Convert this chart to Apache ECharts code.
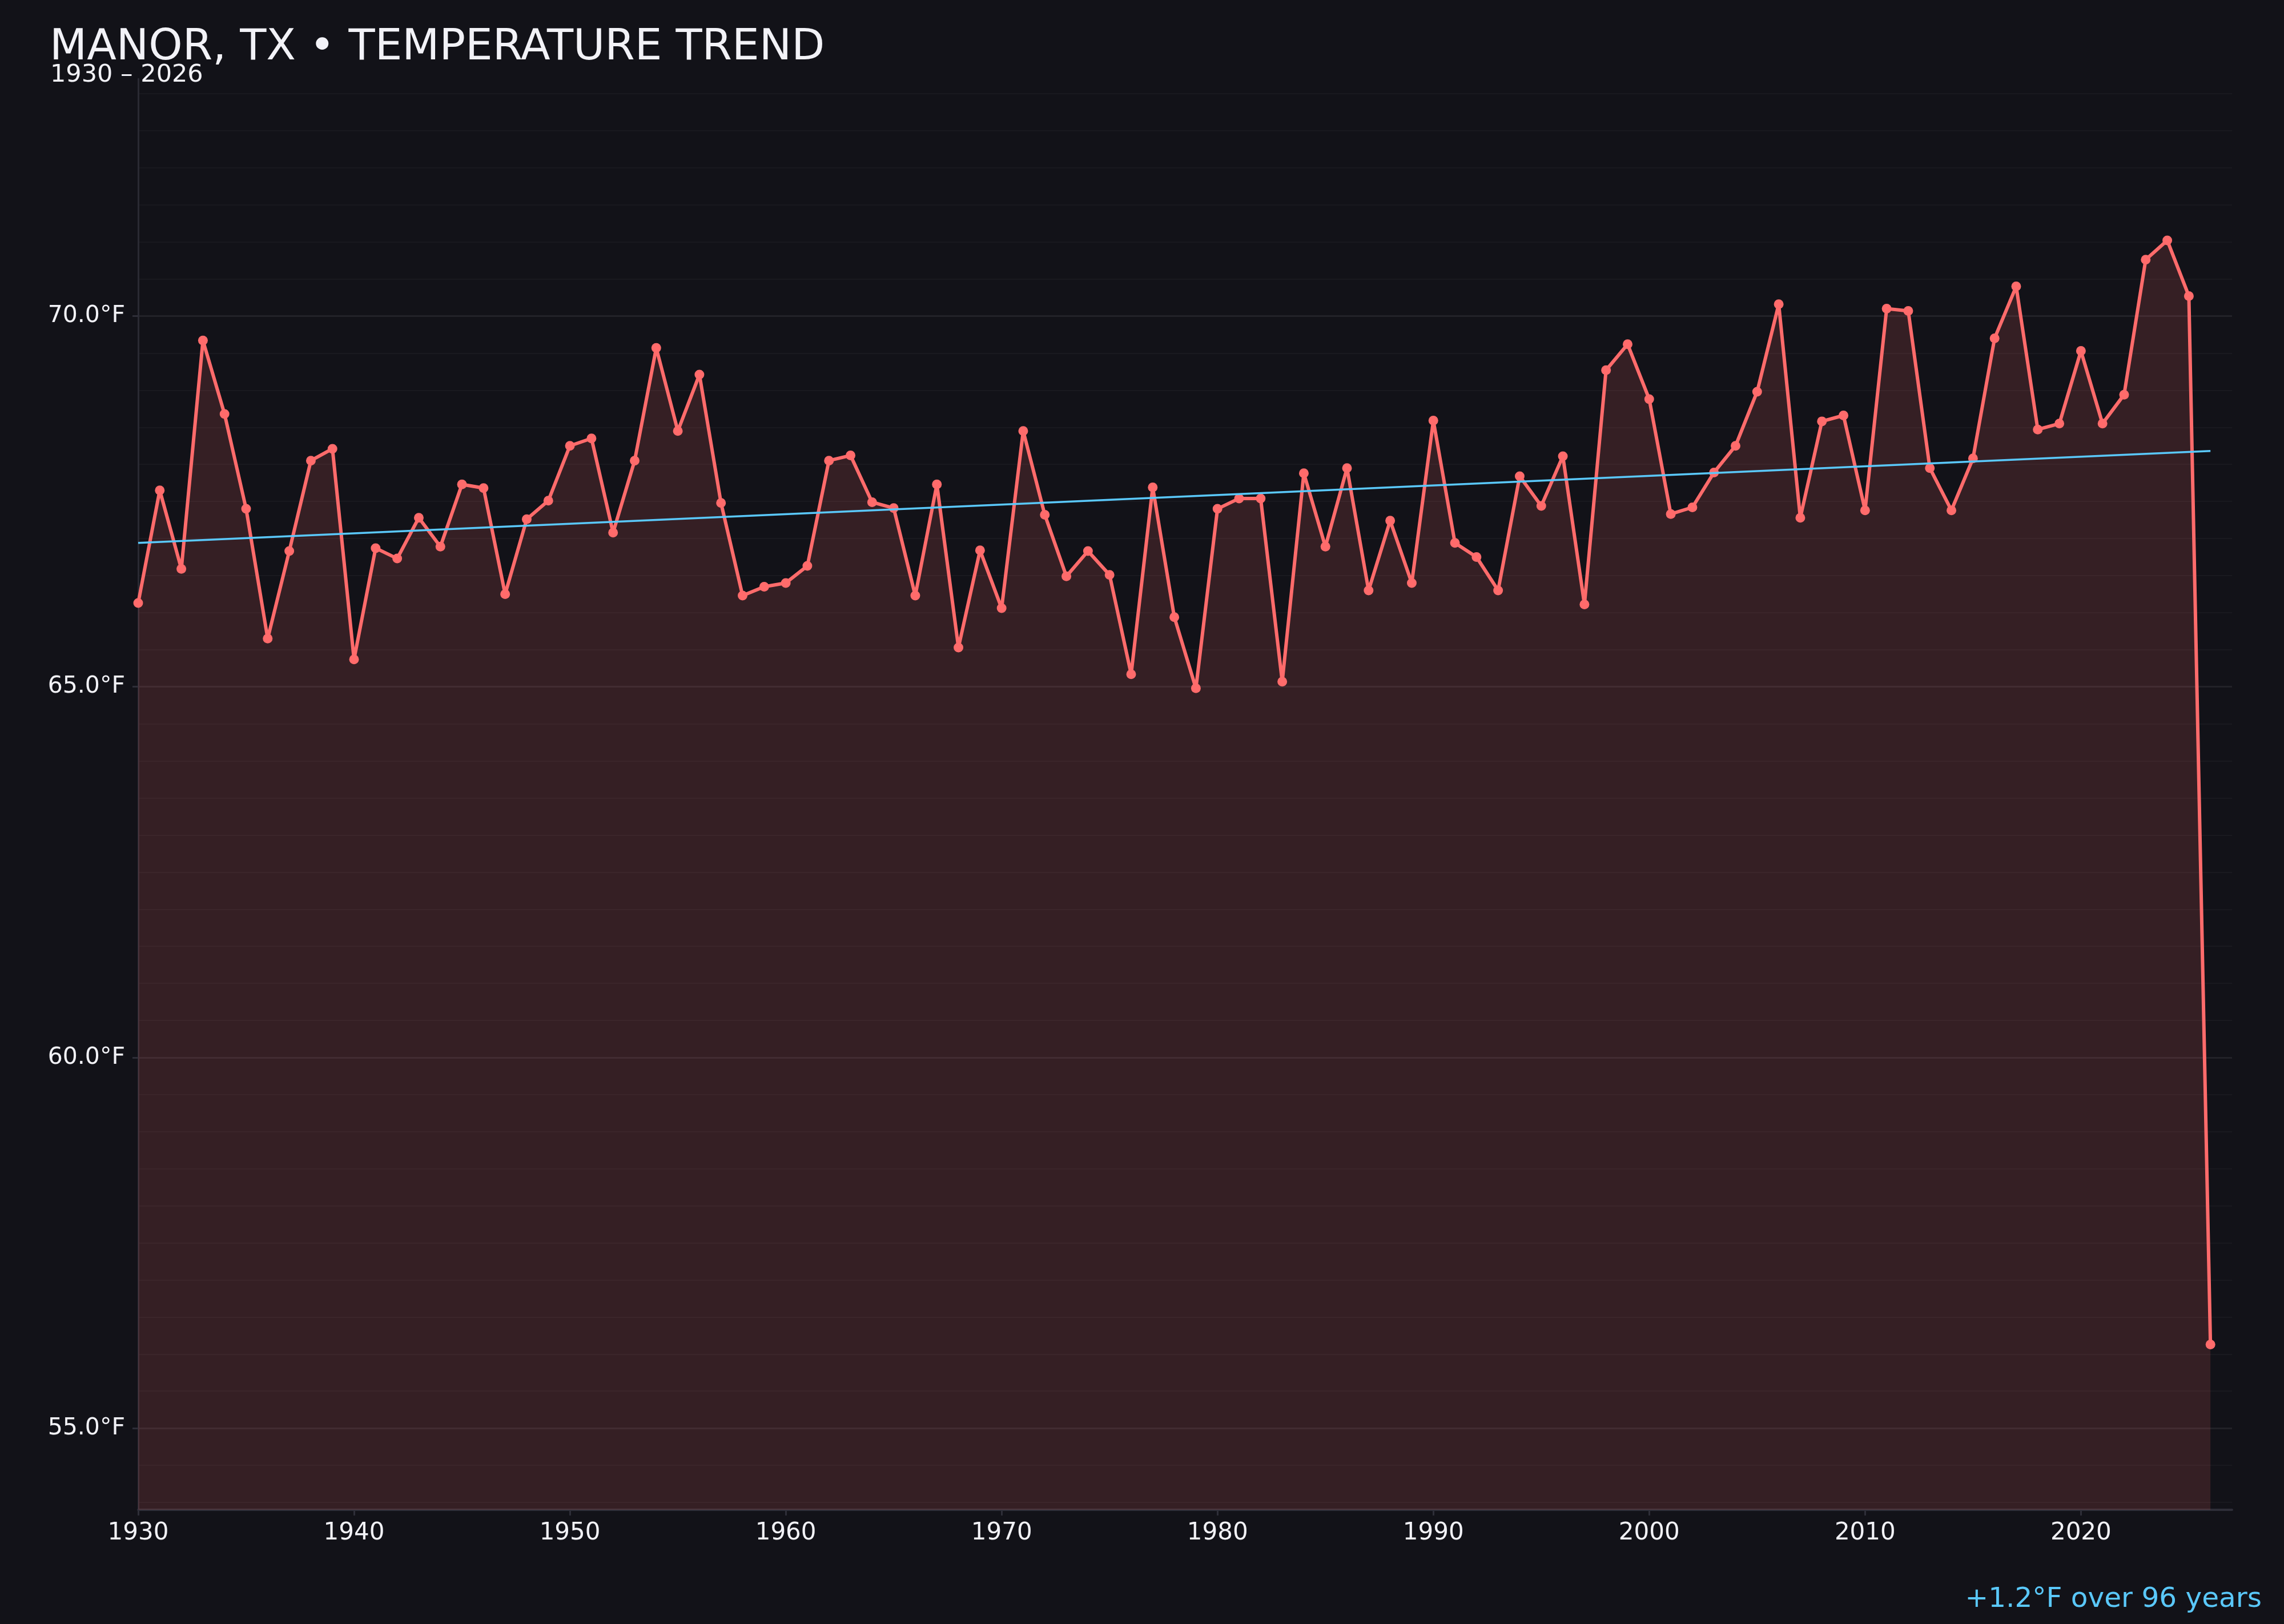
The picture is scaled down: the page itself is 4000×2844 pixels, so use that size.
<!DOCTYPE html>
<html>
<head>
<meta charset="utf-8">
<script src="https://cdn.jsdelivr.net/npm/echarts@6/dist/echarts.min.js"></script>
<style>
html,body{margin:0;padding:0;background:#121218;}
#chart{width:4000px;height:2844px;}
</style>
</head>
<body>
<div id="chart"></div>
<script>
const years = [1930,1931,1932,1933,1934,1935,1936,1937,1938,1939,
1940,1941,1942,1943,1944,1945,1946,1947,1948,1949,
1950,1951,1952,1953,1954,1955,1956,1957,1958,1959,
1960,1961,1962,1963,1964,1965,1966,1967,1968,1969,
1970,1971,1972,1973,1974,1975,1976,1977,1978,1979,
1980,1981,1982,1983,1984,1985,1986,1987,1988,1989,
1990,1991,1992,1993,1994,1995,1996,1997,1998,1999,
2000,2001,2002,2003,2004,2005,2006,2007,2008,2009,
2010,2011,2012,2013,2014,2015,2016,2017,2018,2019,
2020,2021,2022,2023,2024,2025,2026];

const temps = [66.13,67.65,66.59,69.67,68.68,67.40,65.65,66.83,68.05,68.21,
65.37,66.87,66.73,67.28,66.89,67.73,67.68,66.25,67.26,67.51,
68.25,68.35,67.08,68.05,69.57,68.45,69.21,67.48,66.23,66.35,
66.40,66.63,68.05,68.12,67.49,67.41,66.23,67.73,65.53,66.84,
66.06,68.45,67.32,66.49,66.83,66.51,65.17,67.69,65.94,64.98,
67.40,67.54,67.54,65.07,67.88,66.89,67.95,66.30,67.24,66.40,
68.59,66.94,66.75,66.30,67.84,67.44,68.11,66.11,69.27,69.62,
68.88,67.33,67.42,67.89,68.25,68.98,70.16,67.28,68.58,68.66,
67.38,70.10,70.07,67.95,67.38,68.08,69.70,70.40,68.47,68.55,
69.53,68.55,68.94,70.76,71.02,70.27,56.13];

const trendYears = [1930, 2026];
const trendValues = [66.94, 68.18];

const titleText = 'MANOR, TX \u2022 TEMPERATURE TREND';
const subtitleText = '1930 \u2013 2026';
const noteText = '+1.2\u00B0F over 96 years';

const FONT = 'DejaVu Sans';
const chart = echarts.init(document.getElementById('chart'), null, {renderer:'canvas'});

const option = {
  backgroundColor: '#121218',
  animation: false,
  title: [
    {text: titleText, left: 87, top: 46, padding: 0,
     textStyle: {color:'#f2f2f7', fontFamily: FONT, fontSize: 75.5, fontWeight: 'normal'}},
    {text: subtitleText, left: 88, top: 110, padding: 0,
     textStyle: {color:'#f2f2f7', fontFamily: FONT, fontSize: 43, fontWeight: 'normal'}},
    {text: noteText, right: 39, top: 2777, padding: 0,
     textStyle: {color:'#5ac8fa', fontFamily: FONT, fontSize: 48.5, fontWeight: 'normal'}}
  ],
  grid: {left: 242, right: 91, top: 138, bottom: 200, containLabel: false},
  xAxis: {
    type: 'value', min: 1930, max: 2027, interval: 10,
    axisLine: {show: true, lineStyle: {color: '#2e2e38', width: 4}},
    axisTick: {show: true, length: 10, lineStyle: {color: '#2e2e38', width: 3}},
    axisLabel: {color:'#f2f2f7', fontFamily: FONT, fontSize: 42, margin: 20,
      showMaxLabel: false, formatter: v => String(v)},
    splitLine: {show: false}
  },
  yAxis: {
    type: 'value', min: 53.9, max: 73.2, splitNumber: 4,
    axisLine: {show: true, lineStyle: {color: '#2a2a33', width: 3}},
    axisTick: {show: true, length: 10, lineStyle: {color: '#2e2e38', width: 3}},
    axisLabel: {color:'#f2f2f7', fontFamily: FONT, fontSize: 41, margin: 23,
      showMinLabel: false, showMaxLabel: false,
      formatter: v => v.toFixed(1) + '\u00B0F'},
    splitLine: {show: true, showMinLine: false, showMaxLine: false,
      lineStyle: {color: 'rgba(255,255,255,0.07)', width: 3}},
    minorTick: {show: false, splitNumber: 10},
    minorSplitLine: {show: true, lineStyle: {color: 'rgba(255,255,255,0.03)', width: 2}}
  },
  series: [
    {
      type: 'line',
      data: years.map((y, i) => [y, temps[i]]),
      symbol: 'circle', symbolSize: 17, showSymbol: true,
      itemStyle: {color: '#ff6b6b'},
      lineStyle: {color: '#ff6b6b', width: 6},
      areaStyle: {color: 'rgba(255,107,107,0.15)', opacity: 1, origin: 'start'},
      z: 3
    },
    {
      type: 'line',
      data: trendYears.map((y, i) => [y, trendValues[i]]),
      symbol: 'none',
      lineStyle: {color: '#5ac8fa', width: 3.5},
      z: 4
    }
  ]
};
chart.setOption(option);
</script>
</body>
</html>
